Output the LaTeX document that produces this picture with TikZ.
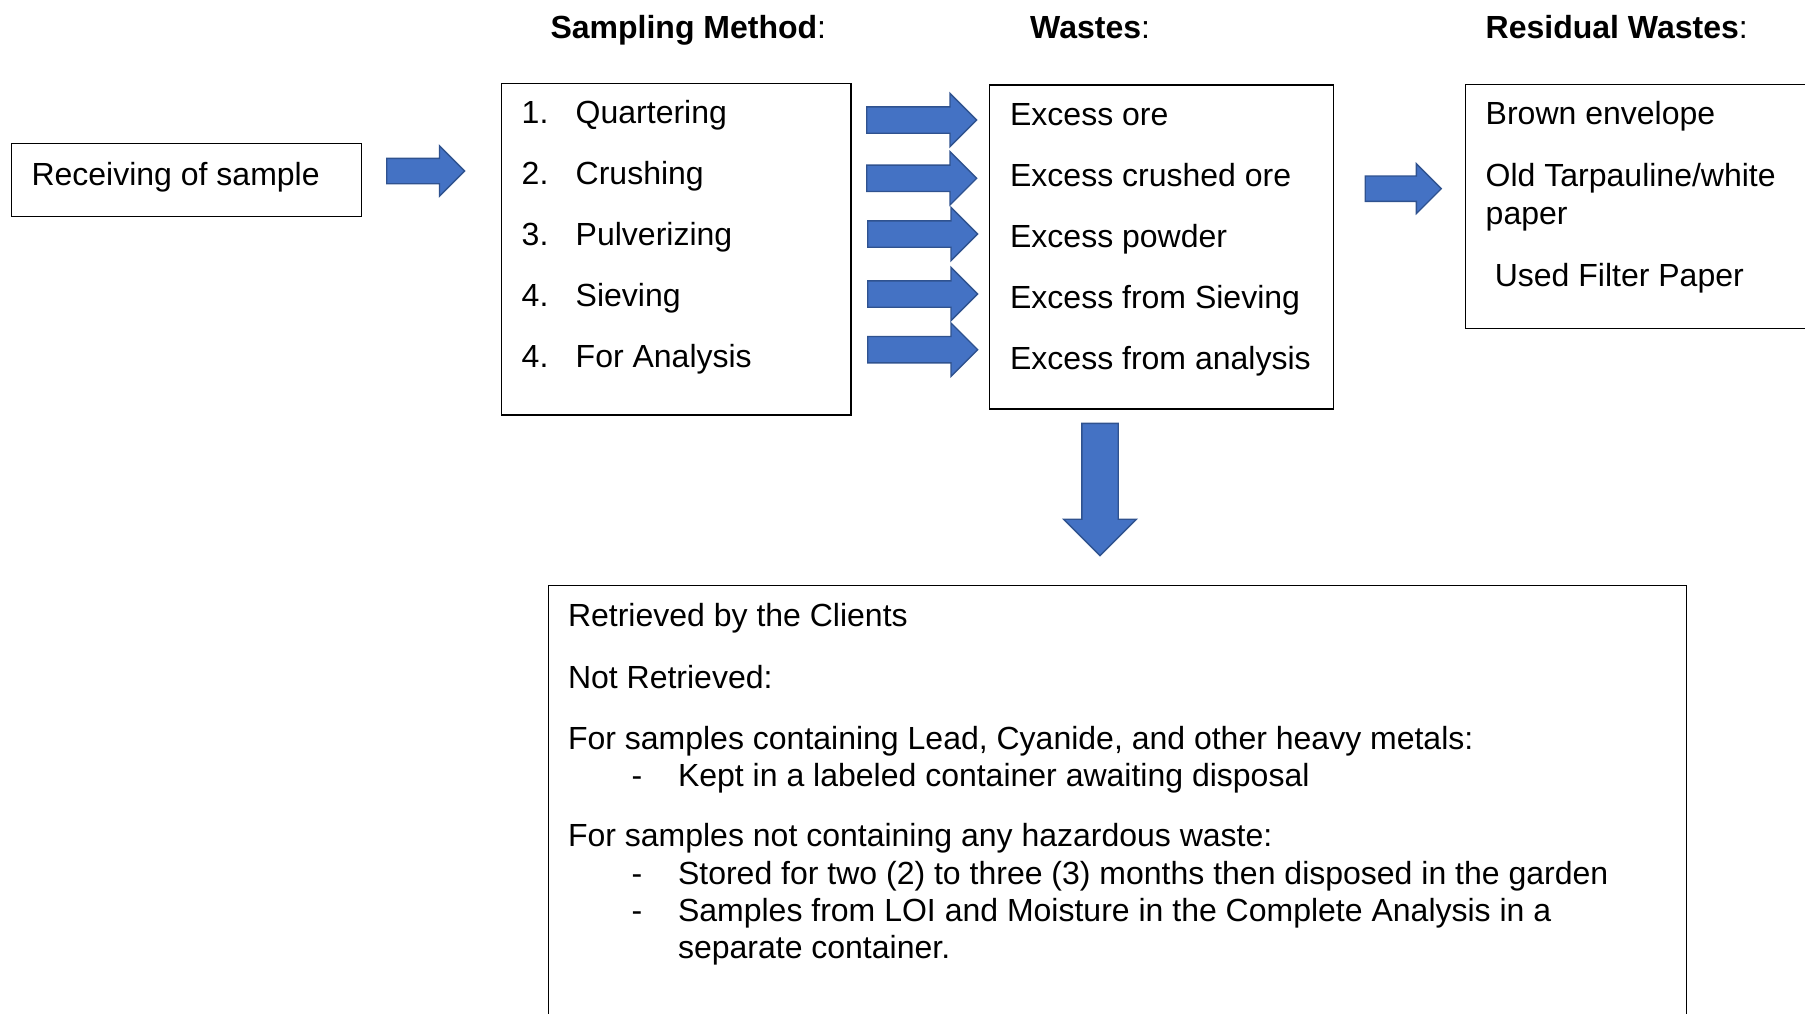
\documentclass[tikz,border=0pt]{standalone}
\usepackage{fontspec}
\setmainfont{Liberation Sans}
\usepackage{xcolor}
\usetikzlibrary{shapes.arrows}
\definecolor{arrowblue}{HTML}{4472C4}
\definecolor{arrowedge}{HTML}{2F528F}
\newcommand{\px}{0.375pt}

\begin{document}
\begin{tikzpicture}[
    x=0.375pt, y=-0.375pt, % one unit = one pixel of the picture, y downwards
    box/.style={draw, line width=0.55pt, anchor=north west, inner sep=0pt},
    txt/.style={anchor=base west, inner sep=0pt, yshift=-0.45pt, font=\fontsize{12pt}{13.8pt}\selectfont},
    barrow/.style={single arrow, fill=arrowblue, draw=arrowedge, line width=0.5pt,
        inner sep=0pt, text depth=0pt, single arrow tip angle=90, anchor=tail}
    ]
\useasboundingbox (0,0) rectangle (1805,1013);
\clip (0,0) rectangle (1805,1013);

% headings
\node[txt] (hsamp) at (550,37) {\textbf{Sampling Method}:};
\node[txt] (hwaste) at (1029.7,37) {\textbf{Wastes}:};
\node[txt] (hresid) at (1485.2,37) {\textbf{Residual Wastes}:};

% boxes
\node[box, minimum width=350.3*\px, minimum height=73*\px] (recv) at (10.7,142.7) {};
\node[box, minimum width=349.6*\px, minimum height=331.6*\px] (samp) at (500.8,82.8) {};
\node[box, minimum width=344*\px, minimum height=324*\px] (waste) at (988.9,84.3) {};
\node[box, minimum width=345*\px, minimum height=243.7*\px] (resid) at (1465,84) {};
\node[box, minimum width=1138.5*\px, minimum height=440*\px] (ret) at (547.5,584.8) {};

\node[txt] (recvt) at (31,184.3) {Receiving of sample};

\node[txt] (n1) at (521.2,122.7) {1.};
\node[txt] (s1) at (575.2,122.7) {Quartering};
\node[txt] (n2) at (521.2,183.6) {2.};
\node[txt] (s2) at (575.2,183.6) {Crushing};
\node[txt] (n3) at (521.2,244.5) {3.};
\node[txt] (s3) at (575.2,244.5) {Pulverizing};
\node[txt] (n4) at (521.2,305.4) {4.};
\node[txt] (s4) at (575.2,305.4) {Sieving};
\node[txt] (n5) at (521.2,366.3) {4.};
\node[txt] (s5) at (575.2,366.3) {For Analysis};

\node[txt] (w1) at (1009.6,124.5) {Excess ore};
\node[txt] (w2) at (1009.6,185.4) {Excess crushed ore};
\node[txt] (w3) at (1009.6,246.3) {Excess powder};
\node[txt] (w4) at (1009.6,307.2) {Excess from Sieving};
\node[txt] (w5) at (1009.6,368.1) {Excess from analysis};

\node[txt] (r1) at (1485.2,123.5) {Brown envelope};
\node[txt] (r2) at (1485.2,185) {Old Tarpauline/white};
\node[txt] (r3) at (1485.2,223.5) {paper};
\node[txt] (r4) at (1494.3,285) {Used Filter Paper};

\node[txt] (b1) at (567.5,625) {Retrieved by the Clients};
\node[txt] (b2) at (567.5,687) {Not Retrieved:};
\node[txt] (b3) at (567.5,748) {For samples containing Lead, Cyanide, and other heavy metals:};
\node[txt] (d1) at (631,785) {-};
\node[txt] (b4) at (677.5,785) {Kept in a labeled container awaiting disposal};
\node[txt] (b5) at (567.5,845) {For samples not containing any hazardous waste:};
\node[txt] (d2) at (631,883) {-};
\node[txt] (b6) at (677.5,883) {Stored for two (2) to three (3) months then disposed in the garden};
\node[txt] (d3) at (631,920) {-};
\node[txt] (b7) at (677.5,920) {Samples from LOI and Moisture in the Complete Analysis in a};
\node[txt] (b8) at (677.5,957) {separate container.};

% block arrows
\node[barrow, text height=24*\px, single arrow head extend=12.5*\px, minimum height=78*\px] (a0) at (386,171) {};
\node[barrow, text height=25*\px, single arrow head extend=13.5*\px, minimum height=110*\px] (a1) at (866,120) {};
\node[barrow, text height=25*\px, single arrow head extend=13.5*\px, minimum height=110*\px] (a2) at (866,178.3) {};
\node[barrow, text height=25*\px, single arrow head extend=13.5*\px, minimum height=110*\px] (a3) at (867,234) {};
\node[barrow, text height=25*\px, single arrow head extend=13.5*\px, minimum height=110*\px] (a4) at (867,294) {};
\node[barrow, text height=25*\px, single arrow head extend=13.5*\px, minimum height=110*\px] (a5) at (867,349.7) {};
\node[barrow, text height=24*\px, single arrow head extend=12.25*\px, minimum height=76*\px] (a6) at (1364.6,188.7) {};
\node[barrow, text height=35*\px, single arrow head extend=18.3*\px, minimum height=132.3*\px, rotate=-90] (a7) at (1100,422.7) {};
\end{tikzpicture}
\end{document}
